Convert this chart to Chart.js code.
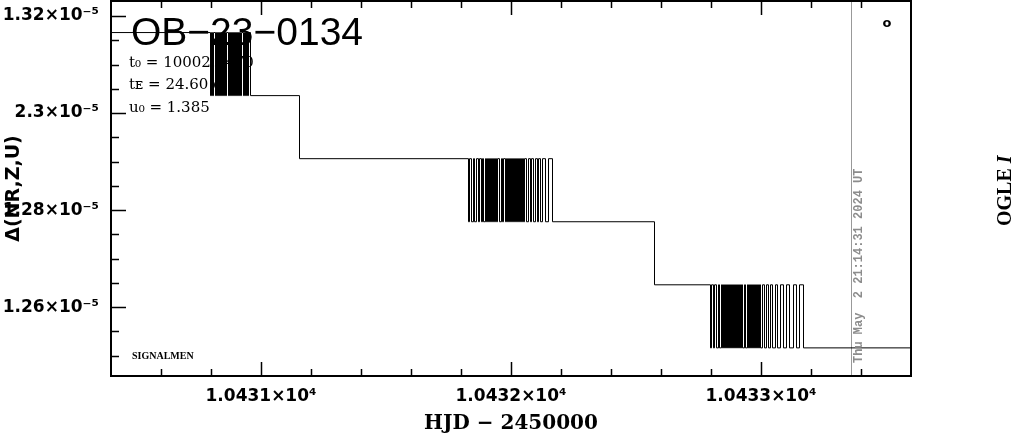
<!DOCTYPE html>
<html>
<head>
<meta charset="utf-8">
<script src="https://cdn.jsdelivr.net/npm/chart.js@4.4.0/dist/chart.umd.min.js"></script>
<style>
  html, body { margin: 0; padding: 0; background: #fff; }
  canvas { display: block; }
</style>
</head>
<body>
<canvas id="lc" width="1014" height="434"></canvas>
<script>
// quantised signal levels, in units of 1e-5
const levels = [1.3167, 1.3037, 1.2907, 1.2777, 1.2647, 1.2517];
const hjdStart = 10430.4;
const hjdEnd = 10433.6;

// HJD of each flip between two neighbouring levels
const flips1 = [10430.796, 10430.800, 10430.804, 10430.808, 10430.816, 10430.820, 10430.824,
  10430.828, 10430.832, 10430.836, 10430.840, 10430.844, 10430.848, 10430.852, 10430.856,
  10430.860, 10430.868, 10430.872, 10430.876, 10430.880, 10430.884, 10430.888, 10430.892,
  10430.896, 10430.900, 10430.904, 10430.908, 10430.912, 10430.916, 10430.920, 10430.928,
  10430.932, 10430.936, 10430.940, 10430.944, 10430.948, 10430.956];
const step1 = 10431.152;
const flips2 = [10431.828, 10431.832, 10431.840, 10431.848, 10431.852, 10431.860, 10431.868,
  10431.872, 10431.880, 10431.884, 10431.888, 10431.896, 10431.900, 10431.904, 10431.908,
  10431.912, 10431.916, 10431.920, 10431.924, 10431.928, 10431.932, 10431.936, 10431.940,
  10431.944, 10431.952, 10431.960, 10431.964, 10431.968, 10431.976, 10431.980, 10431.984,
  10431.988, 10431.992, 10431.996, 10432.000, 10432.004, 10432.008, 10432.012, 10432.016,
  10432.020, 10432.024, 10432.028, 10432.032, 10432.036, 10432.040, 10432.044, 10432.048,
  10432.052, 10432.060, 10432.068, 10432.076, 10432.080, 10432.088, 10432.096, 10432.104,
  10432.108, 10432.116, 10432.124, 10432.136, 10432.148, 10432.164];
const step2 = 10432.572;
const flips3 = [10432.796, 10432.800, 10432.808, 10432.812, 10432.820, 10432.828, 10432.832,
  10432.840, 10432.844, 10432.848, 10432.852, 10432.856, 10432.860, 10432.864, 10432.868,
  10432.872, 10432.876, 10432.880, 10432.884, 10432.888, 10432.892, 10432.896, 10432.900,
  10432.904, 10432.908, 10432.912, 10432.916, 10432.920, 10432.924, 10432.932, 10432.936,
  10432.944, 10432.948, 10432.952, 10432.956, 10432.960, 10432.964, 10432.968, 10432.972,
  10432.976, 10432.980, 10432.984, 10432.988, 10432.992, 10432.996, 10433.004, 10433.012,
  10433.020, 10433.028, 10433.036, 10433.044, 10433.056, 10433.064, 10433.076, 10433.088,
  10433.100, 10433.112, 10433.128, 10433.140, 10433.152, 10433.168];
const markerHJD = 10433.36;

const xMajor = [10431, 10432, 10433];
const xMajorLabels = ['1.0431×10⁴', '1.0432×10⁴', '1.0433×10⁴'];
const xMinor = [10430.6, 10430.8, 10431.2, 10431.4, 10431.6, 10431.8, 10432.2, 10432.4,
  10432.6, 10432.8, 10433.2, 10433.4];
const yMajor = [1.26, 1.28, 1.30, 1.32];
const yMajorLabels = ['1.26×10⁻⁵', '1.28×10⁻⁵', '2.3×10⁻⁵', '1.32×10⁻⁵'];
const yMinor = [1.25, 1.255, 1.265, 1.27, 1.275, 1.285, 1.29, 1.295, 1.305, 1.31, 1.315];
const yMin = 1.2458, yMax = 1.3231;

// build the step signal
const pts = [{x: hjdStart, y: levels[0]}];
const addFlips = (times, hi, lo) => times.forEach((t, i) => pts.push({x: t, y: i % 2 === 0 ? lo : hi}));
addFlips(flips1, levels[0], levels[1]);
pts.push({x: step1, y: levels[2]});
addFlips(flips2, levels[2], levels[3]);
pts.push({x: step2, y: levels[4]});
addFlips(flips3, levels[4], levels[5]);
pts.push({x: hjdEnd, y: levels[5]});

const tickFont = {family: 'DejaVu Sans', size: 17, weight: 'bold'};

const isMajor = (arr, v) => arr.some(m => Math.abs(m - v) < 1e-6);

const decor = {
  id: 'decor',
  beforeDatasetsDraw(chart) { chart.ctx.save(); chart.ctx.translate(0.5, 0.5); },
  afterDatasetsDraw(chart) { chart.ctx.restore(); },
  afterDraw(chart) {
    const {ctx, chartArea: a, scales: {x, y}} = chart;
    ctx.save();
    ctx.strokeStyle = '#000';
    ctx.lineWidth = 2;
    ctx.strokeRect(a.left, a.top, a.right - a.left, a.bottom - a.top);
    ctx.lineWidth = 1.5;
    ctx.beginPath();
    xMajor.concat(xMinor).forEach(v => {
      const px = Math.round(x.getPixelForValue(v)) + 0.5;
      const len = isMajor(xMajor, v) ? 14 : 7;
      ctx.moveTo(px, a.bottom); ctx.lineTo(px, a.bottom - len);
      ctx.moveTo(px, a.top); ctx.lineTo(px, a.top + len);
    });
    yMajor.concat(yMinor).forEach(v => {
      const py = Math.round(y.getPixelForValue(v)) + 0.5;
      const len = isMajor(yMajor, v) ? 15 : 8;
      ctx.moveTo(a.left, py); ctx.lineTo(a.left + len, py);
    });
    ctx.stroke();

    ctx.fillStyle = '#000';
    ctx.textBaseline = 'alphabetic';
    ctx.textAlign = 'left';
    ctx.font = '39px "Liberation Sans"';
    ctx.fillText('OB\u221223\u22120134', 131, 45);
    ctx.font = '15px "DejaVu Serif"';
    ctx.fillText('t\u2080 = 10002.7470', 129, 67);
    ctx.fillText('t\u1D07 = 24.60 d', 129, 89);
    ctx.fillText('u\u2080 = 1.385', 129, 112);
    ctx.font = 'bold 10px "Liberation Serif"';
    ctx.fillText('SIGNALMEN', 132, 359);
    ctx.font = 'bold 13px "DejaVu Sans"';
    ctx.textAlign = 'center';
    ctx.fillText('o', 887, 27);

    // date stamp along the marker line
    ctx.save();
    ctx.translate(862, 363);
    ctx.rotate(-Math.PI / 2);
    ctx.textAlign = 'left';
    ctx.fillStyle = '#8c8c8c';
    ctx.font = 'bold 12px "Liberation Mono"';
    ctx.fillText('Thu May  2 21:14:31 2024 UT', 0, 0);
    ctx.restore();

    // instrument label
    ctx.save();
    ctx.translate(1011, 226);
    ctx.rotate(-Math.PI / 2);
    ctx.textAlign = 'left';
    ctx.fillStyle = '#000';
    ctx.font = 'bold 20px "Liberation Serif"';
    ctx.fillText('OGLE ', 0, 0);
    const w = ctx.measureText('OGLE ').width;
    ctx.font = 'italic bold 20px "Liberation Serif"';
    ctx.fillText('I', w, 0);
    ctx.restore();
    ctx.restore();
  }
};

new Chart(document.getElementById('lc'), {
  type: 'line',
  data: {
    datasets: [
      {data: pts, borderColor: '#000', borderWidth: 1, pointRadius: 0, stepped: 'before', fill: false},
      {data: [{x: markerHJD, y: yMin}, {x: markerHJD, y: yMax}], borderColor: '#999', borderWidth: 1, pointRadius: 0}
    ]
  },
  options: {
    responsive: false,
    animation: false,
    events: [],
    layout: {padding: {top: 1, right: 103, left: 0, bottom: 0}},
    plugins: {legend: {display: false}, tooltip: {enabled: false}},
    scales: {
      x: {
        type: 'linear', min: hjdStart, max: hjdEnd,
        afterBuildTicks: s => { s.ticks = xMajor.concat(xMinor).sort((p, q) => p - q).map(v => ({value: v})); },
        afterFit: s => { s.height = 58; s.paddingLeft = 0; s.paddingRight = 0; },
        grid: {display: false, drawTicks: false},
        border: {display: false},
        ticks: {
          autoSkip: false, maxRotation: 0, padding: 10, color: '#000', font: tickFont,
          callback: v => { const i = xMajor.findIndex(m => Math.abs(m - v) < 1e-6); return i < 0 ? '' : xMajorLabels[i]; }
        },
        title: {display: true, text: 'HJD \u2212 2450000', color: '#000',
          font: {family: 'DejaVu Serif', size: 20, weight: 'bold', lineHeight: 1}, padding: {top: 0, bottom: 0}}
      },
      y: {
        type: 'linear', min: yMin, max: yMax,
        afterBuildTicks: s => { s.ticks = yMajor.concat(yMinor).sort((p, q) => p - q).map(v => ({value: v})); },
        afterFit: s => { s.width = 111; s.paddingTop = 0; s.paddingBottom = 0; },
        grid: {display: false, drawTicks: false},
        border: {display: false},
        ticks: {
          autoSkip: false, padding: 12, color: '#000', font: tickFont,
          callback: v => { const i = yMajor.findIndex(m => Math.abs(m - v) < 1e-6); return i < 0 ? '' : yMajorLabels[i]; }
        },
        title: {display: true, text: '\u0394(NR,Z,U)', color: '#000',
          font: {family: 'DejaVu Sans', size: 19, weight: 'bold', lineHeight: 1}, padding: {top: 5, bottom: 0}}
      }
    }
  },
  plugins: [decor]
});
</script>
</body>
</html>
